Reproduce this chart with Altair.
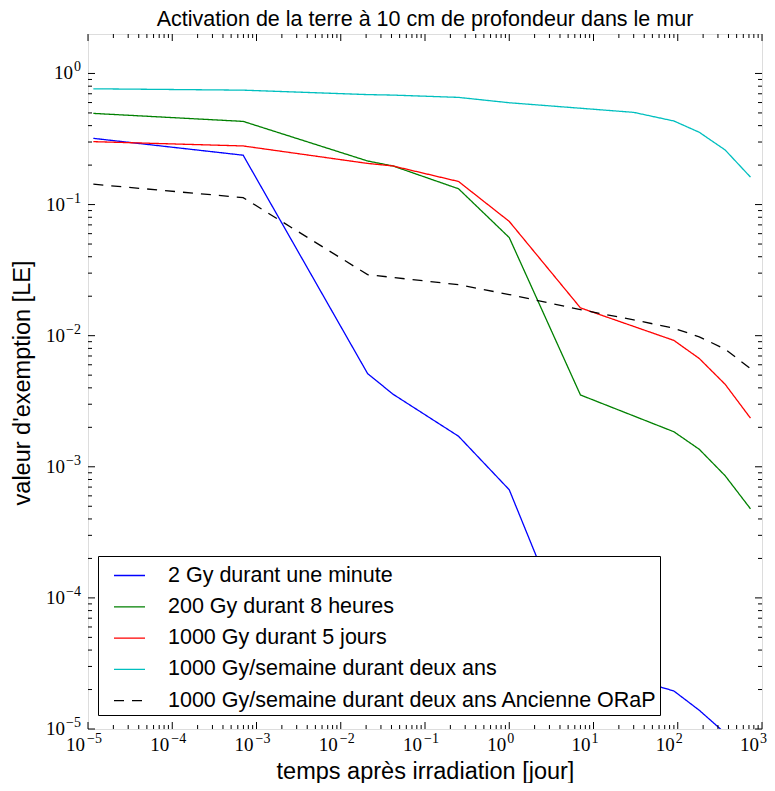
import altair as alt
import pandas as pd

# time points in days
S1 = 1 / 86400
MIN1 = 1 / 1440
MIN30 = 30 / 1440
H1 = 1 / 24
H6 = 0.25

names = [
    "2 Gy durant une minute",
    "200 Gy durant 8 heures",
    "1000 Gy durant 5 jours",
    "1000 Gy/semaine durant deux ans",
    "1000 Gy/semaine durant deux ans Ancienne ORaP",
]
colors = ["#0000ff", "#008000", "#ff0000", "#00bfbf", "#000000"]

t_blue = [S1, MIN1, MIN30, H1, H6, 1, 7, 30, 90, 180, 365, 730]
v_blue = [0.32, 0.238, 5.14e-3, 3.58e-3, 1.71e-3, 6.68e-4, 3.1e-5, 2.4e-5, 1.95e-5, 1.39e-5, 9.3e-6, 4e-6]

t_green = [S1, MIN1, MIN30, H1, H6, 1, 7, 90, 180, 365, 730]
v_green = [0.496, 0.431, 0.215, 0.197, 0.132, 0.056, 3.53e-3, 1.85e-3, 1.36e-3, 8.55e-4, 4.78e-4]

t_red = [S1, MIN1, MIN30, H1, H6, 1, 7, 90, 180, 365, 730]
v_red = [0.302, 0.280, 0.206, 0.197, 0.150, 0.0744, 0.0163, 9.2e-3, 6.7e-3, 4.26e-3, 2.35e-3]

t_cyan = [S1, MIN1, MIN30, H1, H6, 1, 30, 90, 180, 365, 730]
v_cyan = [0.764, 0.746, 0.69, 0.684, 0.657, 0.598, 0.505, 0.434, 0.356, 0.261, 0.162]

t_black = [S1, MIN1, MIN30, H6, 1, 7, 30, 90, 180, 365, 730]
v_black = [0.143, 0.113, 0.0292, 0.0245, 0.0206, 0.0158, 0.0132, 0.0114, 9.8e-3, 7.9e-3, 5.6e-3]

x_exps = [-5, -4, -3, -2, -1, 0, 1, 2, 3]
y_exps = [-5, -4, -3, -2, -1, 0]

rows = []
for name, ts, vs in zip(names, [t_blue, t_green, t_red, t_cyan, t_black],
                        [v_blue, v_green, v_red, v_cyan, v_black]):
    for t, v in zip(ts, vs):
        rows.append({"t": t, "v": v, "series": name})
df = pd.DataFrame(rows)

W, H = 674, 695
xscale = alt.Scale(type="log", domain=[1e-5, 1e3], nice=False)
yscale = alt.Scale(type="log", domain=[1e-5, 2], nice=False)

x_major = [10.0 ** k for k in x_exps]
x_minor = [m * 10.0 ** k for k in x_exps[:-1] for m in range(2, 10)]
y_major = [10.0 ** k for k in y_exps]
y_minor = [m * 10.0 ** k for k in y_exps[:-1] for m in range(2, 10)]


def exp_text(k):
    return str(k).replace("-", "\u2212")


def xticks(vals, length):
    d = pd.DataFrame({"t": vals})
    bot = alt.Chart(d).mark_rule(color="black", strokeWidth=1).encode(
        x=alt.X("t:Q", scale=xscale), y=alt.value(H), y2=alt.value(H - length))
    top = alt.Chart(d).mark_rule(color="black", strokeWidth=1).encode(
        x=alt.X("t:Q", scale=xscale), y=alt.value(0), y2=alt.value(length))
    return [bot, top]


def yticks(vals, length):
    d = pd.DataFrame({"v": vals})
    left = alt.Chart(d).mark_rule(color="black", strokeWidth=1).encode(
        y=alt.Y("v:Q", scale=yscale), x=alt.value(0), x2=alt.value(length))
    right = alt.Chart(d).mark_rule(color="black", strokeWidth=1).encode(
        y=alt.Y("v:Q", scale=yscale), x=alt.value(W), x2=alt.value(W - length))
    return [left, right]


tick_layers = xticks(x_major, 7) + xticks(x_minor, 4) + yticks(y_major, 7) + yticks(y_minor, 4)

# tick labels: "10" with a raised exponent, as text marks
LBL_FONT = "Liberation Serif"
BASE_SIZE = 19
EXP_SIZE = 14

xl_neg = pd.DataFrame({"t": [10.0 ** k for k in x_exps if k < 0],
                       "e": [exp_text(k) for k in x_exps if k < 0]})
xl_pos = pd.DataFrame({"t": [10.0 ** k for k in x_exps if k >= 0],
                       "e": [exp_text(k) for k in x_exps if k >= 0]})
yl_neg = pd.DataFrame({"v": [10.0 ** k for k in y_exps if k < 0],
                       "e": [exp_text(k) for k in y_exps if k < 0]})
yl_pos = pd.DataFrame({"v": [10.0 ** k for k in y_exps if k >= 0],
                       "e": [exp_text(k) for k in y_exps if k >= 0]})

label_layers = []
for d, dx_base, dx_exp in [(xl_neg, -3, -1), (xl_pos, -3, -2)]:
    label_layers.append(alt.Chart(d).mark_text(
        text="10", align="right", baseline="middle", dx=dx_base, font=LBL_FONT,
        fontSize=BASE_SIZE, color="black").encode(
        x=alt.X("t:Q", scale=xscale), y=alt.value(H + 16)))
    label_layers.append(alt.Chart(d).mark_text(
        align="left", baseline="middle", dx=dx_exp, font=LBL_FONT,
        fontSize=EXP_SIZE, color="black").encode(
        x=alt.X("t:Q", scale=xscale), y=alt.value(H + 10), text="e:N"))
for d, xb in [(yl_neg, -23), (yl_pos, -15)]:
    label_layers.append(alt.Chart(d).mark_text(
        text="10", align="right", baseline="middle", font=LBL_FONT,
        fontSize=BASE_SIZE, color="black").encode(
        y=alt.Y("v:Q", scale=yscale), x=alt.value(xb)))
    label_layers.append(alt.Chart(d).mark_text(
        align="right", baseline="middle", dy=-6, font=LBL_FONT,
        fontSize=EXP_SIZE, color="black").encode(
        y=alt.Y("v:Q", scale=yscale), x=alt.value(-7), text="e:N"))

legend = alt.Legend(
    title=None, orient="none", legendX=10, legendY=522,
    fillColor="white", strokeColor="black", padding=3, rowPadding=4.3,
    symbolType="stroke", symbolSize=961, symbolStrokeWidth=1.3, symbolOffset=12,
    labelOffset=22, labelFont="Liberation Sans", labelFontSize=21.5, labelLimit=0,
    cornerRadius=0,
)

lines = alt.Chart(df).mark_line(clip=True, strokeWidth=1.3).encode(
    x=alt.X("t:Q", scale=xscale, axis=alt.Axis(
        values=x_major, labels=False, title="temps après irradiation [jour]",
        ticks=False, domain=False, grid=False,
        titleFont="Liberation Sans", titleFontSize=23.5, titleFontWeight="normal",
        titleColor="black", titleX=W / 2, titleY=49, titleBaseline="alphabetic",
        titleAlign="center")),
    y=alt.Y("v:Q", scale=yscale, axis=alt.Axis(
        values=y_major, labels=False, title="valeur d'exemption [LE]",
        ticks=False, domain=False, grid=False,
        titleFont="Liberation Sans", titleFontSize=23.5, titleFontWeight="normal",
        titleColor="black", titleX=-59, titleY=H / 2 + 1, titleBaseline="alphabetic",
        titleAlign="center", titleAngle=270)),
    color=alt.Color("series:N", scale=alt.Scale(domain=names, range=colors), legend=legend),
    strokeDash=alt.StrokeDash("series:N", scale=alt.Scale(
        domain=names, range=[[1, 0], [1, 0], [1, 0], [1, 0], [10, 8]]), legend=legend),
    order=alt.Order("t:Q"),
)

chart = alt.layer(lines, *tick_layers, *label_layers).properties(
    width=W, height=H,
    title=alt.TitleParams("Activation de la terre à 10 cm de profondeur dans le mur",
                          font="Liberation Sans", fontSize=21.5, fontWeight="normal",
                          color="black", offset=3),
    autosize=alt.AutoSizeParams(type="none"),
    padding={"left": 80, "top": 26, "right": 5, "bottom": 54},
).configure_view(stroke="black", strokeWidth=1.3).configure(background="white")

chart.save("out.html", embed_options={"renderer": "svg", "actions": False})
